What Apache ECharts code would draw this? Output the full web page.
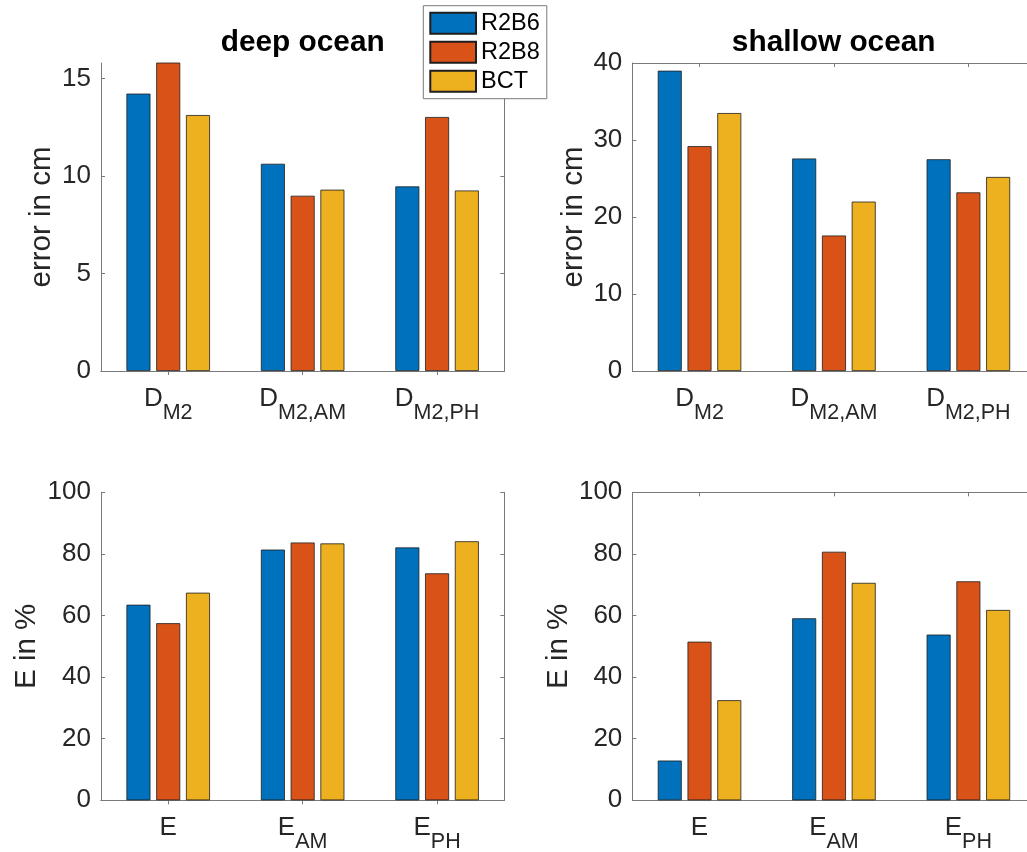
<!DOCTYPE html>
<html>
<head>
<meta charset="utf-8">
<script src="https://cdn.jsdelivr.net/npm/echarts@6/dist/echarts.min.js"></script>
<style>
html,body{margin:0;padding:0;background:#fff;overflow:hidden;}
#c{width:1027px;height:852px;}
</style>
</head>
<body>
<div id="c"></div>
<script>
// ---- data ----
var seriesNames = ['R2B6', 'R2B8', 'BCT'];
var colors = ['#0072BD', '#D95319', '#EDB120'];

var catsD = ['D_M2', 'D_M2,AM', 'D_M2,PH'];
var catsE = ['E', 'E_AM', 'E_PH'];

var deepD_R2B6 = [14.23, 10.63, 9.47];
var deepD_R2B8 = [16.0, 8.99, 13.03];
var deepD_BCT  = [13.13, 9.30, 9.26];

var shallowD_R2B6 = [39.0, 27.6, 27.5];
var shallowD_R2B8 = [29.2, 17.6, 23.2];
var shallowD_BCT  = [33.5, 22.0, 25.2];

var deepE_R2B6 = [63.5, 81.4, 82.1];
var deepE_R2B8 = [57.5, 83.7, 73.7];
var deepE_BCT  = [67.4, 83.4, 84.1];

var shallowE_R2B6 = [12.9, 59.1, 53.8];
var shallowE_R2B8 = [51.5, 80.7, 71.1];
var shallowE_BCT  = [32.5, 70.6, 61.8];

var titles = ['deep ocean', 'shallow ocean'];
var yNames = ['error in cm', 'error in cm', 'E in %', 'E in %'];
var yMax = [15.8, 40, 100, 100];
var yInterval = [5, 10, 20, 20];

// ---- layout / style ----
var FONT = 'Liberation Sans';
var TXT = '#262626';
var AX = '#7a7a7a';
var grids = [
  {left: 101, width: 403.3, top: 63, height: 308, outerBoundsMode: 'none', containLabel: false},
  {left: 632.3, width: 403.3, top: 63, height: 308, outerBoundsMode: 'none', containLabel: false},
  {left: 101, width: 403.3, top: 492.3, height: 308, outerBoundsMode: 'none', containLabel: false},
  {left: 632.3, width: 403.3, top: 492.3, height: 308, outerBoundsMode: 'none', containLabel: false}
];
var hasRightAxis = [true, false, true, false];
var nameGaps = [44, 43.6, 59.6, 58.6];
var panelData = [
  [deepD_R2B6, deepD_R2B8, deepD_BCT],
  [shallowD_R2B6, shallowD_R2B8, shallowD_BCT],
  [deepE_R2B6, deepE_R2B8, deepE_BCT],
  [shallowE_R2B6, shallowE_R2B8, shallowE_BCT]
];
var panelCats = [catsD, catsD, catsE, catsE];

function catFormatter(v) {
  var i = v.indexOf('_');
  if (i < 0) return '{m|' + v + '}';
  return '{m|' + v.slice(0, i) + '}{s|' + v.slice(i + 1) + '}';
}

var xAxes = [], yAxes = [], series = [];
for (var g = 0; g < 4; g++) {
  var xi = xAxes.length;
  xAxes.push({
    type: 'category', gridIndex: g, data: panelCats[g], position: 'bottom',
    axisLine: {show: true, lineStyle: {color: AX, width: 1}},
    axisTick: {show: true, inside: true, length: 4, alignWithLabel: true, lineStyle: {color: AX}},
    axisLabel: {
      margin: 14.6, color: TXT, formatter: catFormatter,
      rich: {
        m: {fontSize: 26, lineHeight: 26, fontFamily: FONT, color: TXT, verticalAlign: 'top'},
        s: {fontSize: 21.5, lineHeight: 21.5, fontFamily: FONT, color: TXT, verticalAlign: 'top', padding: [16.3, 0, 0, 0]}
      }
    },
    splitLine: {show: false}
  });
  xAxes.push({
    type: 'category', gridIndex: g, data: panelCats[g], position: 'top',
    axisLine: {show: true, lineStyle: {color: AX, width: 1}},
    axisTick: {show: true, inside: true, length: 4, alignWithLabel: true, lineStyle: {color: AX}},
    axisLabel: {show: false},
    splitLine: {show: false}
  });
  var yi = yAxes.length;
  yAxes.push({
    type: 'value', gridIndex: g, position: 'left', min: 0, max: yMax[g], interval: yInterval[g],
    name: yNames[g], nameLocation: 'middle', nameGap: nameGaps[g],
    nameTextStyle: {fontSize: 29.5, fontFamily: FONT, color: TXT},
    axisLine: {show: true, lineStyle: {color: AX, width: 1}},
    axisTick: {show: true, inside: true, length: 4, lineStyle: {color: AX}},
    axisLabel: {show: true, margin: 10, fontSize: 26, fontFamily: FONT, color: TXT, showMaxLabel: yMax[g] % yInterval[g] === 0},
    splitLine: {show: false}
  });
  if (hasRightAxis[g]) {
    yAxes.push({
      type: 'value', gridIndex: g, position: 'right', min: 0, max: yMax[g], interval: yInterval[g],
      axisLine: {show: true, lineStyle: {color: AX, width: 1}},
      axisTick: {show: true, inside: true, length: 4, lineStyle: {color: AX}},
      axisLabel: {show: false},
      splitLine: {show: false}
    });
  }
  for (var s = 0; s < 3; s++) {
    series.push({
      type: 'bar', name: seriesNames[s], xAxisIndex: xi, yAxisIndex: yi,
      data: panelData[g][s], barWidth: 24, barGap: '24%', clip: true,
      itemStyle: {color: colors[s], borderColor: '#1e1e1e', borderWidth: 0.8},
      emphasis: {disabled: true}
    });
  }
}

var option = {
  animation: false,
  backgroundColor: '#ffffff',
  title: [
    {text: titles[0], left: 302.7, top: 27.5, textAlign: 'center', padding: 0,
     textStyle: {fontSize: 29.8, fontWeight: 'bold', fontFamily: FONT, color: '#000'}},
    {text: titles[1], left: 833.7, top: 27.5, textAlign: 'center', padding: 0,
     textStyle: {fontSize: 29.8, fontWeight: 'bold', fontFamily: FONT, color: '#000'}}
  ],
  legend: {
    data: seriesNames, orient: 'vertical', left: 423.3, top: 5.7,
    padding: [5.5, 7, 5.5, 6], itemWidth: 45.7, itemHeight: 21, itemGap: 5,
    icon: 'rect', selectedMode: false,
    backgroundColor: '#ffffff', borderColor: AX, borderWidth: 1,
    textStyle: {fontSize: 23.5, fontFamily: FONT, color: '#000'}
  },
  grid: grids,
  xAxis: xAxes,
  yAxis: yAxes,
  series: series
};

var chart = echarts.init(document.getElementById('c'), null, {renderer: 'canvas'});
chart.setOption(option);
</script>
</body>
</html>
